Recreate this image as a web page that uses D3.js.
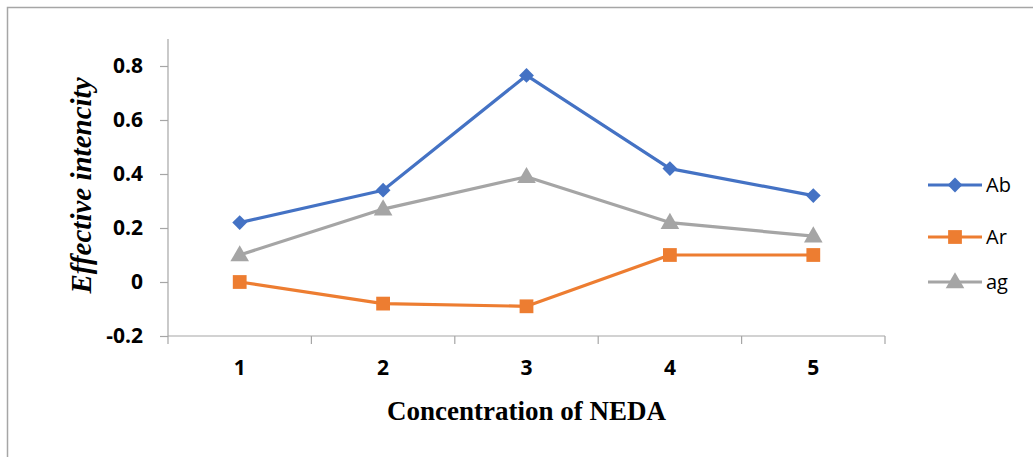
<!DOCTYPE html>
<html>
<head>
<meta charset="utf-8">
<script src="https://cdn.jsdelivr.net/npm/d3@7"></script>
<style>
html,body{margin:0;padding:0;background:#fff;}
svg{display:block;}
</style>
</head>
<body>
<svg id="chart" width="1033" height="457"></svg>
<script>
const categories = ["1", "2", "3", "4", "5"];
const seriesNames = ["Ab", "Ar", "ag"];
const abValues = [0.22, 0.34, 0.765, 0.42, 0.32];
const arValues = [0.0, -0.08, -0.09, 0.10, 0.10];
const agValues = [0.10, 0.27, 0.39, 0.22, 0.17];
const yTicks = [-0.2, 0, 0.2, 0.4, 0.6, 0.8];
const yTickLabels = ["-0.2", "0", "0.2", "0.4", "0.6", "0.8"];
const yDomain = [-0.2, 0.9];
const xTitle = "Concentration of NEDA";
const yTitle = "Effective intencity";

(function () {
const colors = {Ab: "#4472C4", Ar: "#ED7D31", ag: "#A5A5A5"};
const diamond = {draw(ctx, size) { const r = Math.sqrt(size / 2); ctx.moveTo(0, -r); ctx.lineTo(r, 0); ctx.lineTo(0, r); ctx.lineTo(-r, 0); ctx.closePath(); }};
const symbols = {Ab: diamond, Ar: d3.symbolSquare, ag: d3.symbolTriangle};
const sizes = {Ab: 110, Ar: 190, ag: 150};
const series = [
  {name: seriesNames[0], values: abValues},
  {name: seriesNames[1], values: arValues},
  {name: seriesNames[2], values: agValues}
];

const svg = d3.select("#chart");
const pLeft = 168, pRight = 885, pTop = 39, pBottom = 336;
const labelFont = "'Open Sans', 'Noto Sans', sans-serif";

// outer border (top and left visible)
svg.append("path")
  .attr("d", "M7.5,460 L7.5,7.5 L1040,7.5")
  .attr("fill", "none").attr("stroke", "#A6A6A6").attr("stroke-width", 1.5);

const x = d3.scaleBand().domain(categories).range([pLeft, pRight]);
const y = d3.scaleLinear().domain(yDomain).range([pBottom, pTop]);

// y axis
const yAxis = d3.axisLeft(y).tickValues(yTicks).tickSize(8).tickPadding(17)
  .tickFormat((d, i) => yTickLabels[i]);
const gy = svg.append("g").attr("transform", `translate(${pLeft},0)`).call(yAxis);
gy.select(".domain").attr("stroke", "#A6A6A6").attr("stroke-width", 1.2)
  .attr("d", `M0,${y(yDomain[1])}V${y(yDomain[0])}`);
gy.selectAll(".tick line").attr("stroke", "#A6A6A6").attr("stroke-width", 1.2);
gy.selectAll(".tick text").attr("fill", "#000")
  .style("font-family", labelFont)
  .style("font-weight", "bold").style("font-size", "21px");

// x axis
const xAxis = d3.axisBottom(x).tickSize(0).tickPadding(24);
const gx = svg.append("g").attr("transform", `translate(0,${pBottom})`).call(xAxis);
gx.select(".domain").attr("stroke", "#A6A6A6").attr("stroke-width", 1.2)
  .attr("d", `M${pLeft},0H${pRight}`);
gx.selectAll(".tick text").attr("fill", "#000")
  .style("font-family", labelFont)
  .style("font-weight", "bold").style("font-size", "21px");
// category boundary ticks
const boundaries = categories.map(c => x(c)).concat([x(categories[categories.length-1]) + x.bandwidth()]);
gx.selectAll("line.bnd").data(boundaries).enter().append("line")
  .attr("class", "bnd")
  .attr("x1", d => d).attr("x2", d => d).attr("y1", 0).attr("y2", 8)
  .attr("stroke", "#A6A6A6").attr("stroke-width", 1.2);

// axis titles
svg.append("text")
  .attr("x", (pLeft + pRight) / 2).attr("y", 420)
  .attr("text-anchor", "middle")
  .style("font-family", "'Liberation Serif', 'Times New Roman', serif")
  .style("font-weight", "bold").style("font-size", "27px")
  .text(xTitle);
svg.append("text")
  .attr("transform", `translate(91,${(pTop + pBottom) / 2 - 2}) rotate(-90)`)
  .attr("text-anchor", "middle")
  .style("font-family", "'Liberation Serif', 'Times New Roman', serif")
  .style("font-weight", "bold").style("font-style", "italic").style("font-size", "29px")
  .text(yTitle);

// lines
const cx = c => x(c) + x.bandwidth() / 2;
const line = d3.line().x((d, i) => cx(categories[i])).y(d => y(d));
series.forEach(s => {
  svg.append("path").datum(s.values)
    .attr("fill", "none").attr("stroke", colors[s.name])
    .attr("stroke-width", 3.2).attr("stroke-linejoin", "round")
    .attr("d", line);
});
series.forEach(s => {
  svg.selectAll(null).data(s.values).enter().append("path")
    .attr("transform", (d, i) => `translate(${cx(categories[i])},${y(d) + (s.name === "ag" ? 1 : 0)})`)
    .attr("d", d3.symbol().type(symbols[s.name]).size(sizes[s.name]))
    .attr("fill", colors[s.name]);
});

// legend
const legendY = [185, 237, 282];
series.forEach((s, i) => {
  const g = svg.append("g").attr("transform", `translate(928,${legendY[i]})`);
  g.append("line").attr("x1", 0).attr("x2", 54).attr("y1", 0).attr("y2", 0)
    .attr("stroke", colors[s.name]).attr("stroke-width", 3.2);
  g.append("path").attr("transform", `translate(27,${s.name === "ag" ? 1 : 0})`)
    .attr("d", d3.symbol().type(symbols[s.name]).size(sizes[s.name]))
    .attr("fill", colors[s.name]);
  g.append("text").attr("x", 58).attr("y", 0).attr("dy", "0.36em")
    .style("font-family", labelFont)
    .style("font-size", "20px").attr("fill", "#000")
    .text(s.name);
});
})();
</script>
</body>
</html>
